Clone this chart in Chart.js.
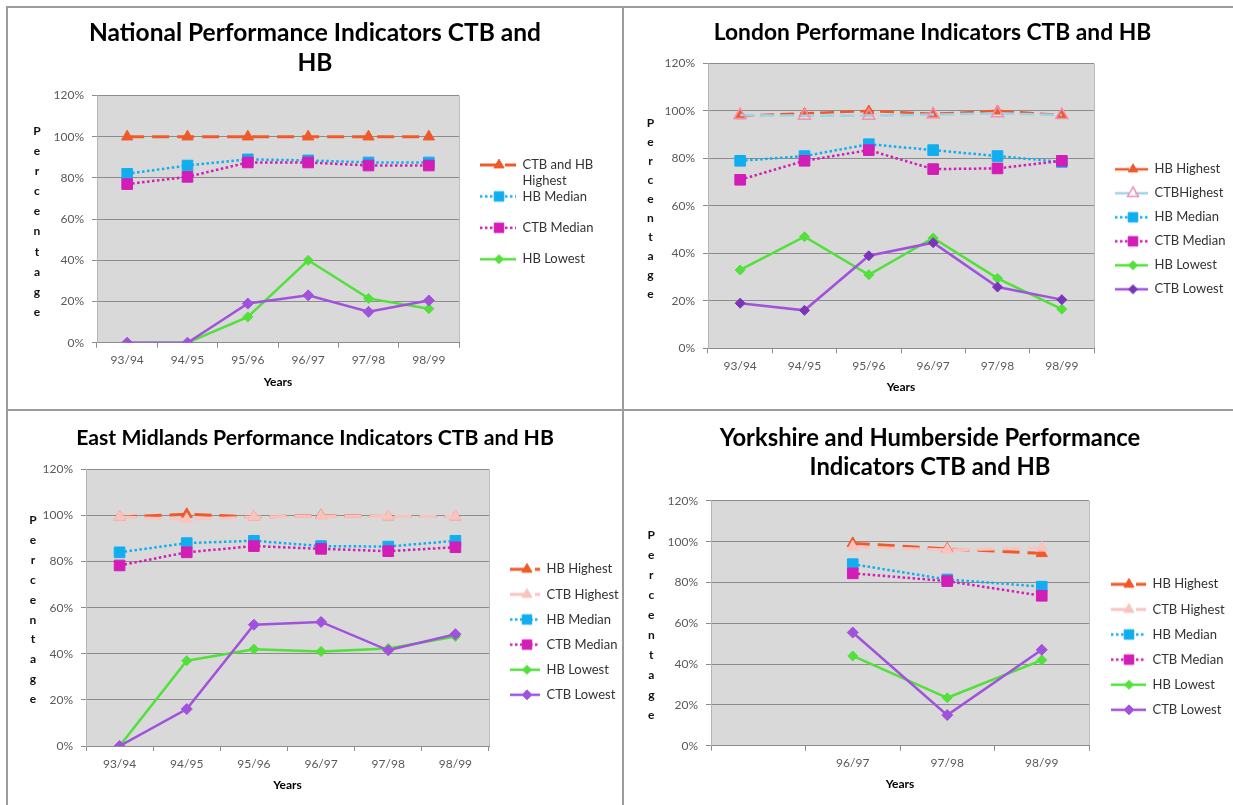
<!DOCTYPE html>
<html><head><meta charset="utf-8">
<script src="https://cdn.jsdelivr.net/npm/chart.js@4.4.1/dist/chart.umd.min.js"></script>
<style>
html,body{margin:0;padding:0;background:#fff;width:1233px;height:805px;overflow:hidden;font-family:Lato,'Open Sans',sans-serif;}
.ln{position:absolute;background:#9c9c9c;}
.cv{position:absolute;}
.pct{position:absolute;width:20px;text-align:center;font-family:Lato,sans-serif;font-weight:bold;font-size:12px;color:#111;}
</style></head><body>
<div class="ln" style="left:6px;top:6px;width:1227px;height:2px"></div>
<div class="ln" style="left:6px;top:6px;width:2px;height:799px"></div>
<div class="ln" style="left:622px;top:6px;width:2px;height:799px"></div>
<div class="ln" style="left:6px;top:409px;width:1227px;height:2px"></div>

<canvas id="c1" class="cv" width="613" height="401" style="left:8px;top:8px;width:613px;height:401px"></canvas>
<canvas id="c2" class="cv" width="609" height="401" style="left:624px;top:8px;width:609px;height:401px"></canvas>
<canvas id="c3" class="cv" width="613" height="393" style="left:8px;top:412px;width:613px;height:393px"></canvas>
<canvas id="c4" class="cv" width="609" height="393" style="left:624px;top:412px;width:609px;height:393px"></canvas>

<div id="p1" class="pct"></div><div id="p2" class="pct"></div><div id="p3" class="pct"></div><div id="p4" class="pct"></div>

<script>
// ---------------- DATA ----------------
const percentTicks = [0, 20, 40, 60, 80, 100, 120];
const yAxisTitle = 'Percentage';
const xAxisTitle = 'Years';

// National
const nationalTitle = ['National Performance Indicators CTB and', 'HB'];
const nationalYears = ['93/94', '94/95', '95/96', '96/97', '97/98', '98/99'];
const nationalNames = ['CTB and HB Highest', 'HB Median', 'CTB Median', 'HB Lowest', 'CTB Lowest'];
const nationalLegend = [['CTB and HB', 'Highest'], ['HB Median', ''], ['CTB Median', ''], ['HB Lowest', ''], null];
const nationalHighest = [100, 100, 100, 100, 100, 100];
const nationalHbMedian = [82, 86, 89, 88.5, 87.5, 87.5];
const nationalCtbMedian = [77, 80.5, 87.5, 87.5, 86, 86];
const nationalHbLowest = [0, 0, 12.5, 40, 21.5, 16.5];
const nationalCtbLowest = [0, 0, 19, 23, 15, 20.5];

// London
const londonTitle = ['London Performane Indicators CTB and HB'];
const londonYears = ['93/94', '94/95', '95/96', '96/97', '97/98', '98/99'];
const londonNames = ['HB Highest', 'CTBHighest', 'HB Median', 'CTB Median', 'HB Lowest', 'CTB Lowest'];
const londonHbHighest = [98, 99, 100, 98.8, 100, 98.3];
const londonCtbHighest = [98.3, 98, 98, 98.5, 99, 98.3];
const londonHbMedian = [79, 81, 86, 83.5, 81, 78.5];
const londonCtbMedian = [71, 79, 83.5, 75.5, 75.8, 79];
const londonHbLowest = [33, 47, 31, 46.5, 29.5, 16.5];
const londonCtbLowest = [19, 16, 39, 44.5, 25.8, 20.5];

// East Midlands
const eastMidTitle = ['East Midlands Performance Indicators CTB and HB'];
const eastMidYears = ['93/94', '94/95', '95/96', '96/97', '97/98', '98/99'];
const eastMidNames = ['HB Highest', 'CTB Highest', 'HB Median', 'CTB Median', 'HB Lowest', 'CTB Lowest'];
const eastMidHbHighest = [99.3, 100.5, 99.3, 100, 99.5, 99.5];
const eastMidCtbHighest = [99.3, 98.3, 99.3, 99.8, 99.5, 99.5];
const eastMidHbMedian = [84, 88, 89, 86.7, 86.5, 89];
const eastMidCtbMedian = [78.3, 84, 86.7, 85.5, 84.5, 86.2];
const eastMidHbLowest = [0, 37, 42, 41, 42.3, 47.5];
const eastMidCtbLowest = [0, 16, 52.6, 53.8, 41.5, 48.5];

// Yorkshire and Humberside
const yorkTitle = ['Yorkshire and Humberside Performance', 'Indicators CTB and HB'];
const yorkYears = ['', '96/97', '97/98', '98/99'];
const yorkNames = ['HB Highest', 'CTB Highest', 'HB Median', 'CTB Median', 'HB Lowest', 'CTB Lowest'];
const yorkHbHighest = [null, 99.2, 96.5, 94.3];
const yorkCtbHighest = [null, 97.5, 96, 97];
const yorkHbMedian = [null, 89, 81.5, 78];
const yorkCtbMedian = [null, 84.5, 80.7, 73.5];
const yorkHbLowest = [null, 44, 23.5, 42];
const yorkCtbLowest = [null, 55.5, 15, 47];

// ---------------- STYLES ----------------
const ORANGE = '#f0592a', BLUE = '#11aeef', MAGENTA = '#d21db6', GREEN = '#52e03a', PURPLE = '#a152dc';
const S = {
  high:      {color: ORANGE, width: 3, dash: [17, 8], point: 'triangle', r: 6.5, fill: ORANGE, stroke: ORANGE},
  highL:     {color: ORANGE, width: 2.5, dash: [14, 6], point: 'triangle', r: 6, fill: ORANGE, stroke: ORANGE},
  ctbHighL:  {color: '#9fd3e8', width: 2.5, dash: [14, 6], point: 'triangle', r: 7, fill: 'rgba(255,255,255,0)', stroke: '#f48fb1', bw: 1.5},
  ctbHighP:  {color: '#f9c4bf', width: 3, dash: [17, 8], point: 'triangle', r: 6.5, fill: '#f9c4bf', stroke: '#f9c4bf'},
  hbMed:     {color: BLUE, width: 2.5, dash: [2.5, 2.5], point: 'rect', r: 7.5, fill: BLUE, stroke: BLUE},
  ctbMed:    {color: MAGENTA, width: 2.5, dash: [2.5, 2.5], point: 'rect', r: 7.5, fill: MAGENTA, stroke: MAGENTA},
  hbLow:     {color: GREEN, width: 2.5, point: 'rectRot', r: 5, fill: GREEN, stroke: GREEN},
  ctbLow:    {color: PURPLE, width: 2.5, point: 'rectRot', r: 5.5, fill: PURPLE, stroke: PURPLE},
  ctbLowL:   {color: PURPLE, width: 2.5, point: 'rectRot', r: 5, fill: '#7b34b8', stroke: '#7b34b8'}
};

const LEG_FONT = 13;
const measureCtx = document.createElement('canvas').getContext('2d');

function drawMarker(ctx, style, x, y, r, fill, stroke, bw) {
  ctx.beginPath();
  if (style === 'triangle') {
    let a = 0;
    for (let k = 0; k < 3; k++) { const px = x + Math.sin(a) * r, py = y - Math.cos(a) * r; k ? ctx.lineTo(px, py) : ctx.moveTo(px, py); a += 2 * Math.PI / 3; }
    ctx.closePath();
  } else if (style === 'rect') {
    const s = r * Math.SQRT1_2; ctx.rect(x - s, y - s, 2 * s, 2 * s);
  } else {
    ctx.moveTo(x, y - r); ctx.lineTo(x + r, y); ctx.lineTo(x, y + r); ctx.lineTo(x - r, y); ctx.closePath();
  }
  ctx.fillStyle = fill; ctx.fill();
  ctx.lineWidth = bw || 1; ctx.strokeStyle = stroke; ctx.stroke();
}

function legendImage(st, w, lineStart, markerX) {
  const c = document.createElement('canvas');
  c.width = w; c.height = 16;
  const x = c.getContext('2d');
  x.strokeStyle = st.color; x.lineWidth = st.width; x.setLineDash(st.dash || []);
  x.beginPath(); x.moveTo(lineStart, 8); x.lineTo(w, 8); x.stroke();
  x.setLineDash([]);
  drawMarker(x, st.point, markerX, 8, st.r * 0.9, st.fill, st.stroke, st.bw);
  return c;
}

const plotBg = {
  id: 'plotBg',
  beforeDraw(chart) {
    const {ctx, chartArea: a} = chart;
    ctx.save();
    ctx.fillStyle = '#d9d9d9';
    ctx.fillRect(a.left, a.top, a.right - a.left, a.bottom - a.top);
    ctx.strokeStyle = '#bdbdbd'; ctx.lineWidth = 1;
    ctx.beginPath(); ctx.moveTo(a.right + 0.5, a.top); ctx.lineTo(a.right + 0.5, a.bottom); ctx.stroke();
    ctx.restore();
  }
};

Chart.defaults.font.family = 'Lato';

function buildChart(id, g, labels, title, series) {
  const n = series.length;
  // legend box width: wide enough to hold its text (legend clips to its box)
  measureCtx.font = LEG_FONT + 'px Lato';
  let maxText = 0;
  series.forEach(s => {
    if (!s.legend) return;
    const longest = s.legend.reduce((a, b) => a.length > b.length ? a : b);
    maxText = Math.max(maxText, measureCtx.measureText(longest).width);
  });
  const natural = g.boxW + LEG_FONT / 2 + maxText + 10;
  const legW = Math.min(natural - 1, g.W - g.chartRight);
  const padR = g.W - g.chartRight - legW;
  const padL = 2 * g.titleCenter - g.W + padR;
  const yW = g.chartLeft - padL;

  const datasets = series.map((s, i) => ({
    label: s.name, data: s.data,
    borderColor: s.st.color, borderWidth: s.st.width, borderDash: s.st.dash || [],
    backgroundColor: s.st.fill, fill: false, tension: 0, spanGaps: false,
    pointStyle: s.st.point, pointRadius: s.st.r,
    pointBackgroundColor: s.st.fill, pointBorderColor: s.st.stroke, pointBorderWidth: s.st.bw || 1,
    order: n - 1 - i
  }));
  return new Chart(document.getElementById(id), {
    type: 'line',
    data: {labels: labels, datasets: datasets},
    plugins: [plotBg],
    options: {
      responsive: false, animation: false, events: [],
      layout: {padding: {left: padL, right: padR, top: 0, bottom: 0}},
      plugins: {
        tooltip: {enabled: false},
        title: {
          display: true, text: title, color: '#000',
          font: {family: 'Lato', size: g.titleSize, weight: 'bold', lineHeight: g.titleLH / g.titleSize},
          padding: {top: g.titleTop, bottom: g.titleBottom}
        },
        legend: {
          display: true, position: 'right', align: 'start', maxWidth: legW,
          title: {display: true, text: ' ', font: {size: 10, lineHeight: 1.2}, padding: {top: g.legTitleH - 12, bottom: 0}},
          labels: {
            usePointStyle: true, pointStyleWidth: g.boxW, padding: 0, color: '#333',
            font: {family: 'Lato', size: LEG_FONT, lineHeight: g.legLH / LEG_FONT},
            generateLabels: chart => series.map((s, i) => ({
              text: s.legend, datasetIndex: i, hidden: false, fontColor: '#333',
              pointStyle: legendImage(s.st, g.boxW, g.lineStart, g.markerX),
              fillStyle: 'rgba(0,0,0,0)', strokeStyle: 'rgba(0,0,0,0)', lineWidth: 0
            })).filter(it => it.text != null)
          }
        }
      },
      scales: {
        x: {
          offset: true,
          afterFit: s => { s.height = g.H - g.chartBottom; },
          grid: {offset: true, drawOnChartArea: false, drawTicks: true, tickLength: 5, color: '#8c8c8c'},
          border: {color: '#8c8c8c', width: 1},
          ticks: {color: '#595959', font: {family: 'Lato', size: 12}, padding: g.xTickPad, maxRotation: 0, autoSkip: false},
          title: {display: true, text: xAxisTitle, color: '#000', font: {family: 'Lato', size: 12, weight: 'bold'}, padding: {top: 0, bottom: g.yearsPad}}
        },
        y: {
          min: percentTicks[0], max: percentTicks[percentTicks.length - 1],
          afterFit: s => { s.width = yW; },
          grid: {color: '#8c8c8c', drawTicks: true, tickLength: 5, tickColor: '#8c8c8c'},
          border: {color: '#b5b5b5', width: 1},
          ticks: {stepSize: percentTicks[1] - percentTicks[0], callback: v => v + '%', color: '#595959', font: {family: 'Lato', size: 12}, padding: 8}
        }
      }
    }
  });
}

function pctLabel(id, cx, firstY, step) {
  const el = document.getElementById(id);
  el.innerHTML = yAxisTitle.split('').join('<br>');
  el.style.left = (cx - 10) + 'px';
  el.style.top = (firstY - step / 2) + 'px';
  el.style.lineHeight = step + 'px';
}

const one = a => a.map(t => [t]);
const londonLegend = one(londonNames), eastMidLegend = one(eastMidNames), yorkLegend = one(yorkNames);

buildChart('c1', {W: 613, H: 401, chartLeft: 89, chartRight: 451, chartBottom: 334.7, titleCenter: 307,
  titleSize: 24.5, titleLH: 30, titleTop: 10, titleBottom: 17.5,
  yearsPad: 19.8, xTickPad: 5, legLH: 15.7, legTitleH: 150.5, boxW: 57, lineStart: 21, markerX: 40},
  nationalYears, nationalTitle, [
    {name: nationalNames[0], legend: nationalLegend[0], data: nationalHighest, st: S.high},
    {name: nationalNames[1], legend: nationalLegend[1], data: nationalHbMedian, st: S.hbMed},
    {name: nationalNames[2], legend: nationalLegend[2], data: nationalCtbMedian, st: S.ctbMed},
    {name: nationalNames[3], legend: nationalLegend[3], data: nationalHbLowest, st: S.hbLow},
    {name: nationalNames[4], legend: nationalLegend[4], data: nationalCtbLowest, st: S.ctbLow}
  ]);

buildChart('c2', {W: 609, H: 401, chartLeft: 84, chartRight: 470, chartBottom: 340.3, titleCenter: 308.5,
  titleSize: 22.8, titleLH: 30, titleTop: 10, titleBottom: 15.5,
  yearsPad: 15.1, xTickPad: 5.5, legLH: 24, legTitleH: 154.8, boxW: 54, lineStart: 21, markerX: 39},
  londonYears, londonTitle, [
    {name: londonNames[0], legend: londonLegend[0], data: londonHbHighest, st: S.highL},
    {name: londonNames[1], legend: londonLegend[1], data: londonCtbHighest, st: S.ctbHighL},
    {name: londonNames[2], legend: londonLegend[2], data: londonHbMedian, st: S.hbMed},
    {name: londonNames[3], legend: londonLegend[3], data: londonCtbMedian, st: S.ctbMed},
    {name: londonNames[4], legend: londonLegend[4], data: londonHbLowest, st: S.hbLow},
    {name: londonNames[5], legend: londonLegend[5], data: londonCtbLowest, st: S.ctbLowL}
  ]);

buildChart('c3', {W: 613, H: 393, chartLeft: 78, chartRight: 481, chartBottom: 334, titleCenter: 307,
  titleSize: 21.2, titleLH: 30, titleTop: 11.3, titleBottom: 16,
  yearsPad: 12.8, xTickPad: 6, legLH: 25.1, legTitleH: 150.8, boxW: 51, lineStart: 21, markerX: 38},
  eastMidYears, eastMidTitle, [
    {name: eastMidNames[0], legend: eastMidLegend[0], data: eastMidHbHighest, st: S.high},
    {name: eastMidNames[1], legend: eastMidLegend[1], data: eastMidCtbHighest, st: S.ctbHighP},
    {name: eastMidNames[2], legend: eastMidLegend[2], data: eastMidHbMedian, st: S.hbMed},
    {name: eastMidNames[3], legend: eastMidLegend[3], data: eastMidCtbMedian, st: S.ctbMed},
    {name: eastMidNames[4], legend: eastMidLegend[4], data: eastMidHbLowest, st: S.hbLow},
    {name: eastMidNames[5], legend: eastMidLegend[5], data: eastMidCtbLowest, st: S.ctbLow}
  ]);

buildChart('c4', {W: 609, H: 393, chartLeft: 87, chartRight: 465, chartBottom: 333.7, titleCenter: 306,
  titleSize: 23.8, titleLH: 29.5, titleTop: 11.55, titleBottom: 18.4,
  yearsPad: 13.5, xTickPad: 4.8, legLH: 25.1, legTitleH: 165.8, boxW: 57, lineStart: 22, markerX: 40},
  yorkYears, yorkTitle, [
    {name: yorkNames[0], legend: yorkLegend[0], data: yorkHbHighest, st: S.high},
    {name: yorkNames[1], legend: yorkLegend[1], data: yorkCtbHighest, st: S.ctbHighP},
    {name: yorkNames[2], legend: yorkLegend[2], data: yorkHbMedian, st: S.hbMed},
    {name: yorkNames[3], legend: yorkLegend[3], data: yorkCtbMedian, st: S.ctbMed},
    {name: yorkNames[4], legend: yorkLegend[4], data: yorkHbLowest, st: S.hbLow},
    {name: yorkNames[5], legend: yorkLegend[5], data: yorkCtbLowest, st: S.ctbLow}
  ]);

pctLabel('p1', 37, 131, 20.1);
pctLabel('p2', 650.5, 122, 19);
pctLabel('p3', 33, 520, 19.9);
pctLabel('p4', 651.3, 535, 20);
</script>
</body></html>
